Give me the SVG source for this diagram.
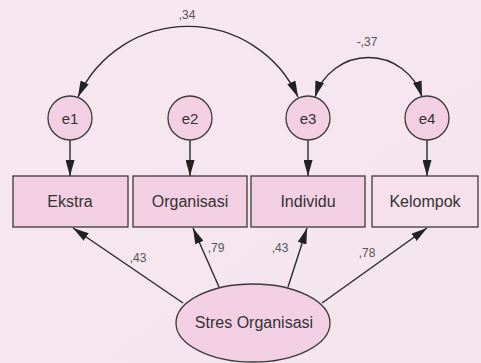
<svg xmlns="http://www.w3.org/2000/svg" width="481" height="363" viewBox="0 0 481 363">
  <defs>
    <marker id="arrow" viewBox="0 0 16 9" refX="16" refY="4.5" markerWidth="16" markerHeight="9" markerUnits="userSpaceOnUse" orient="auto-start-reverse">
      <path d="M0,0 L16,4.5 L0,9 Z" fill="#222"/>
    </marker>
    <linearGradient id="bg" x1="0" y1="0" x2="1" y2="1">
      <stop offset="0" stop-color="#f6e7f0"/>
      <stop offset="1" stop-color="#f3e4ee"/>
    </linearGradient>
  </defs>
  <style>
    .node { fill: #f2cfe3; stroke: #3a3a3a; stroke-width: 1.3; }
    .lbl { font-family: "Liberation Sans", Arial, sans-serif; font-size: 16px; fill: #333; text-anchor: middle; }
    .elbl { font-family: "Liberation Sans", Arial, sans-serif; font-size: 15px; fill: #333; text-anchor: middle; }
    .coef { font-family: "Liberation Sans", Arial, sans-serif; font-size: 12px; fill: #555; text-anchor: middle; }
    .conn { fill: none; stroke: #2a2a2a; stroke-width: 1.4; }
  </style>

  <rect width="481" height="363" fill="url(#bg)"/>

  <!-- connectors -->
  <g id="connectors">
    <path class="conn" d="M78,97 A121,121 0 0 1 298,97" marker-start="url(#arrow)" marker-end="url(#arrow)"/>
    <path class="conn" d="M315,97 A56,56 0 0 1 422,97" marker-start="url(#arrow)" marker-end="url(#arrow)"/>
    <line class="conn" x1="70" y1="140" x2="70" y2="176" marker-end="url(#arrow)"/>
    <line class="conn" x1="190" y1="140" x2="190" y2="176" marker-end="url(#arrow)"/>
    <line class="conn" x1="308" y1="140" x2="308" y2="176" marker-end="url(#arrow)"/>
    <line class="conn" x1="427" y1="140" x2="427" y2="176" marker-end="url(#arrow)"/>
    <line class="conn" x1="183" y1="303" x2="73" y2="228" marker-end="url(#arrow)"/>
    <line class="conn" x1="219" y1="287" x2="193" y2="228" marker-end="url(#arrow)"/>
    <line class="conn" x1="288" y1="287" x2="307" y2="228" marker-end="url(#arrow)"/>
    <line class="conn" x1="322" y1="303" x2="427" y2="228" marker-end="url(#arrow)"/>
    <text class="coef" x="187" y="19">,34</text>
    <text class="coef" x="367" y="46">-,37</text>
    <text class="coef" x="138" y="262">,43</text>
    <text class="coef" x="216" y="252">,79</text>
    <text class="coef" x="280" y="252">,43</text>
    <text class="coef" x="367" y="257">,78</text>
  </g>

  <!-- error terms -->
  <g id="e1"><circle class="node" cx="70" cy="118" r="22"/><text class="elbl" x="70" y="124">e1</text></g>
  <g id="e2"><circle class="node" cx="190" cy="118" r="22"/><text class="elbl" x="190" y="124">e2</text></g>
  <g id="e3"><circle class="node" cx="308" cy="118" r="22"/><text class="elbl" x="308" y="124">e3</text></g>
  <g id="e4"><circle class="node" cx="427" cy="118" r="22"/><text class="elbl" x="427" y="124">e4</text></g>

  <!-- observed indicators -->
  <g id="ekstra"><rect class="node" x="13" y="176" width="115" height="51"/><text class="lbl" x="70" y="207">Ekstra</text></g>
  <g id="organisasi"><rect class="node" x="133" y="176" width="114" height="51"/><text class="lbl" x="190" y="207">Organisasi</text></g>
  <g id="individu"><rect class="node" x="251" y="176" width="114" height="51"/><text class="lbl" x="308" y="207">Individu</text></g>
  <g id="kelompok"><rect class="node" x="372" y="176" width="106" height="51" style="fill:#f5e0ec"/><text class="lbl" x="425" y="207">Kelompok</text></g>

  <!-- latent construct -->
  <g id="stres-organisasi"><ellipse class="node" cx="253" cy="323" rx="77" ry="39"/><text class="lbl" x="254" y="328">Stres Organisasi</text></g>
</svg>
